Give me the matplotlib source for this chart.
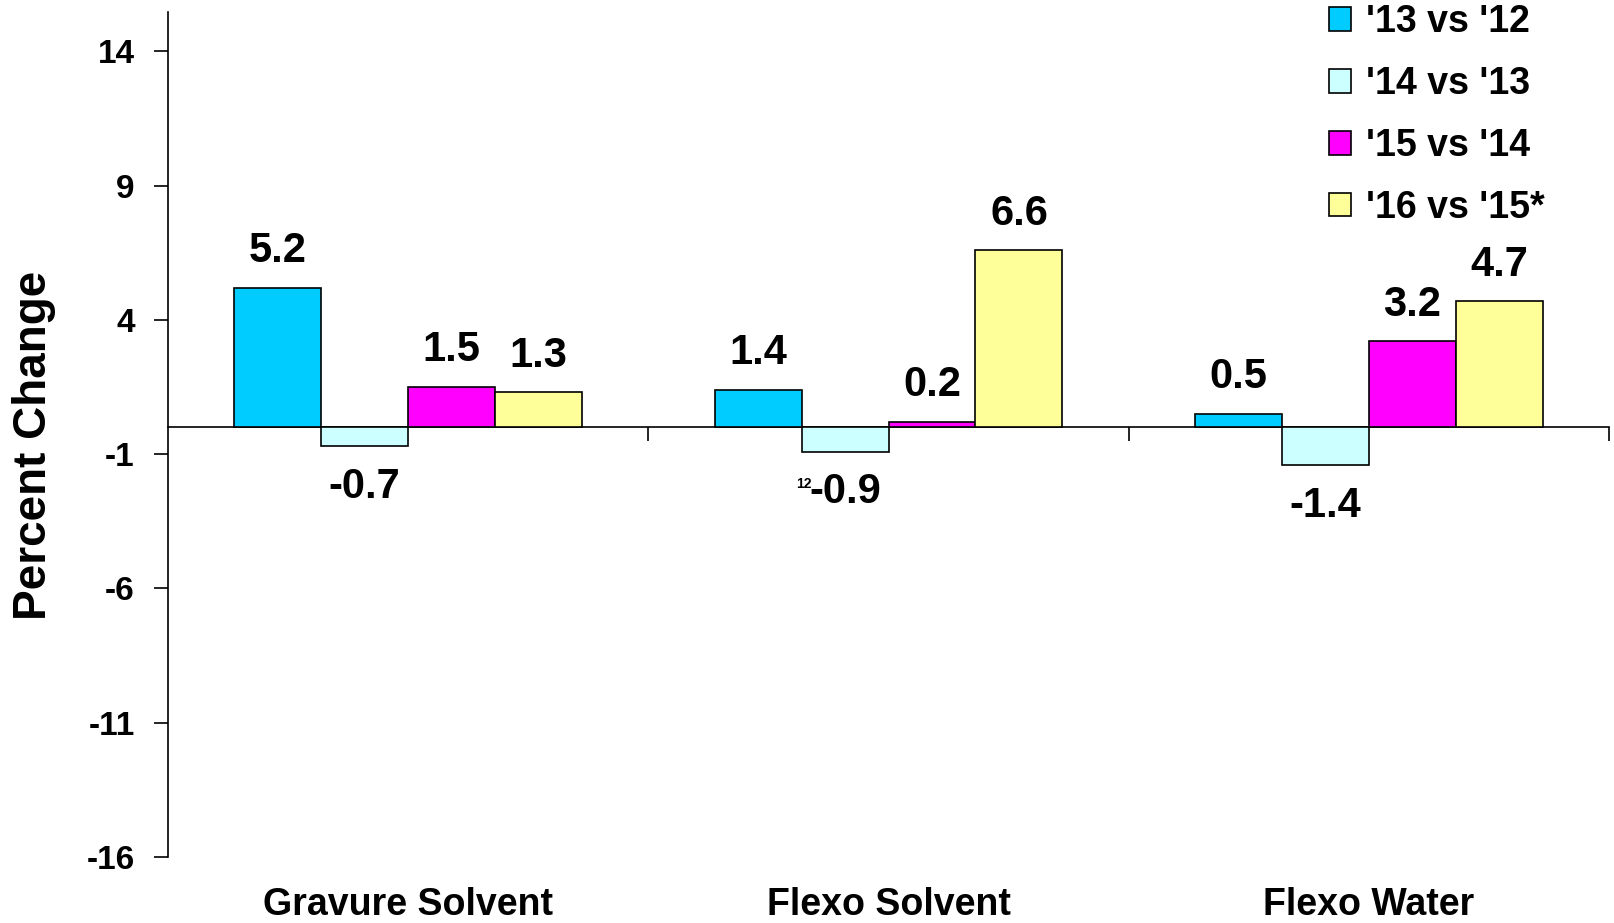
import numpy as np
import matplotlib
matplotlib.use("Agg")
import matplotlib.pyplot as plt
from matplotlib.transforms import blended_transform_factory

plt.rcParams['font.family'] = ['Liberation Sans', 'DejaVu Sans']
plt.rcParams['font.weight'] = 'bold'
plt.rcParams['axes.unicode_minus'] = False

categories = ["Gravure Solvent", "Flexo Solvent", "Flexo Water"]
series = ["'13 vs '12", "'14 vs '13", "'15 vs '14", "'16 vs '15*"]
values = [
    [5.2, 1.4, 0.5],
    [-0.7, -0.9, -1.4],
    [1.5, 0.2, 3.2],
    [1.3, 6.6, 4.7],
]
colors = ["#00CCFF", "#CCFFFF", "#FF00FF", "#FFFF99"]
yticks = [-16, -11, -6, -1, 4, 9, 14]

fig = plt.figure(figsize=(16.14, 9.23), dpi=100)
ax = fig.add_axes([0.104, 0.0715, 0.893, 0.9155])

x = np.arange(len(categories))
w = 0.181
for i, (s, vals, c) in enumerate(zip(series, values, colors)):
    pos = x + (i - 1.5) * w
    ax.bar(pos, vals, w, color=c, edgecolor="black", linewidth=1.2, label=s, zorder=3)
    for p, v in zip(pos, vals):
        off = 12 if v >= 0 else -15
        ax.annotate(f"{v:.1f}", (p, v), xytext=(0, off), textcoords="offset points",
                    ha="center", va="bottom" if v >= 0 else "top",
                    fontsize=30, fontweight="bold")

# stray "12" next to the Flexo Solvent -0.9 label
ax.annotate("12", (1 - 0.5 * w, -0.9), xytext=(-30, -18), textcoords="offset points",
            ha="center", va="top", fontsize=10, fontweight="bold")

ax.set_xlim(-0.5, 2.5)
ax.set_ylim(-16, 15.47)
ax.set_yticks(yticks)
ax.tick_params(axis="y", labelsize=24, length=10, width=1.2, direction="out", pad=14)
ax.set_xticks([0.5, 1.5, 2.5])
ax.set_xticklabels([])
ax.tick_params(axis="x", length=10, width=1.2, direction="out")

ax.spines["top"].set_visible(False)
ax.spines["right"].set_visible(False)
ax.spines["bottom"].set_position(("data", 0))
ax.spines["bottom"].set_linewidth(1.2)
ax.spines["left"].set_linewidth(1.2)

trans = blended_transform_factory(ax.transData, ax.transAxes)
for xi, cat in zip(x, categories):
    ax.text(xi, -0.057, cat, transform=trans, ha="center", va="center",
            fontsize=27, fontweight="bold")

fig.text(0.021, 0.518, "Percent Change", rotation=90, ha="center", va="center",
         fontsize=33, fontweight="bold")

leg = ax.legend(loc="upper left", bbox_to_anchor=(0.795, 1.027), frameon=False,
                fontsize=27, handlelength=0.6, handleheight=0.6, handletextpad=0.4,
                labelspacing=0.69, borderaxespad=0)

fig.savefig("out.png", dpi=100, facecolor="white")
